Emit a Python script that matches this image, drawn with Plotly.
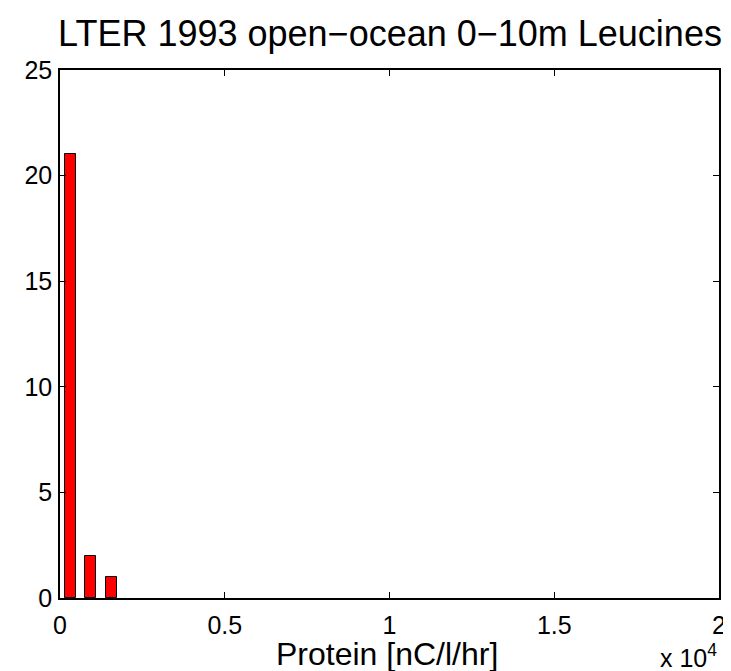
import plotly.graph_objects as go

# Histogram data (bin centers in nC/l/hr, counts)
bin_centers = [311, 933, 1555]
counts = [21, 2, 1]
bar_width = 320

x_tickvals = [0, 5000, 10000, 15000, 20000]
x_ticktext = ["0", "0.5", "1", "1.5", "2"]
y_tickvals = [0, 5, 10, 15, 20, 25]

title_text = "LTER 1993 open\u2212ocean 0\u221210m Leucines"
xlabel = "Protein [nC/l/hr]"
FONT = "Liberation Sans, Arial, Helvetica, sans-serif"

fig = go.Figure()
fig.add_trace(go.Bar(
    x=bin_centers, y=counts, width=bar_width,
    marker=dict(color="#ff0000", line=dict(color="black", width=1)),
    showlegend=False,
))

axis_common = dict(
    showline=True, linecolor="black", linewidth=1.5, mirror="ticks",
    ticks="inside", ticklen=6, tickwidth=1.2, tickcolor="black",
    showgrid=False, zeroline=False,
    tickfont=dict(family=FONT, size=25, color="black"),
)

fig.update_layout(
    width=731, height=671,
    margin=dict(l=52, r=20, t=62, b=81),
    paper_bgcolor="white", plot_bgcolor="white",
    font=dict(family=FONT, color="black"),
    title=dict(text=title_text, font=dict(family=FONT, size=36, color="black"),
               x=382/731, xref="container", xanchor="center",
               y=1 - 12.5/671, yref="container", yanchor="top"),
    xaxis=dict(range=[0, 20000], tickvals=x_tickvals, ticktext=x_ticktext,
               ticklabelstandoff=4, **axis_common),
    yaxis=dict(range=[0, 25], tickvals=y_tickvals, ticklabelstandoff=1,
               **axis_common),
    bargap=0,
)

# x-axis label
fig.add_annotation(
    text=xlabel, xref="paper", yref="paper",
    x=0.496, y=0, xanchor="center", yanchor="top", yshift=-36,
    showarrow=False, font=dict(family=FONT, size=32, color="black"),
)

# exponent label
fig.add_annotation(
    text="x 10<sup>4</sup>", xref="paper", yref="paper",
    x=1, y=0, xanchor="right", yanchor="bottom", yshift=-76,
    showarrow=False, font=dict(family=FONT, size=25, color="black"),
)

fig.write_html("out.html")
